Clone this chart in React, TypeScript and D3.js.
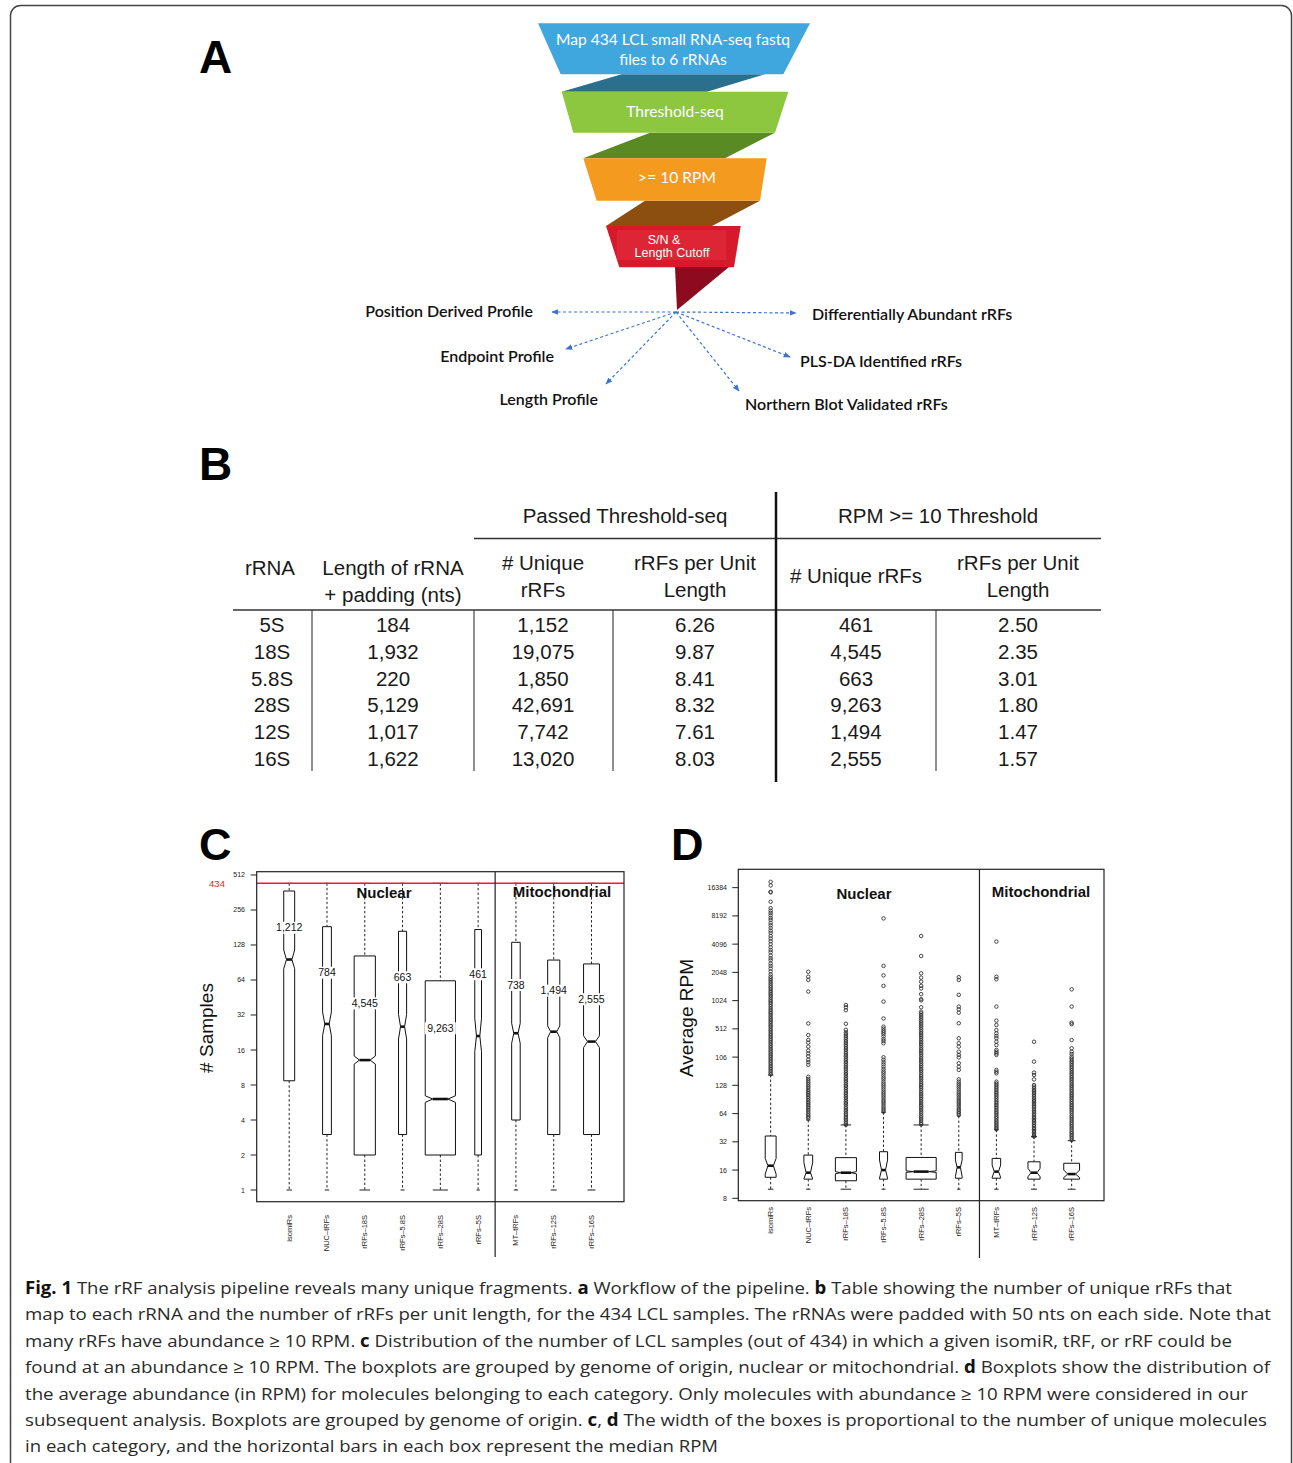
import React from "react";
import * as d3 from "d3";

// ---------------- DATA ----------------
const categories = ["isomiRs", "NUC–tRFs", "rRFs–18S", "rRFs–5.8S", "rRFs–28S", "rRFs–5S", "MT–tRFs", "rRFs–12S", "rRFs–16S"];
const uniqueCounts = [1212, 784, 4545, 663, 9263, 461, 738, 1494, 2555];
const countLabels = ["1,212", "784", "4,545", "663", "9,263", "461", "738", "1,494", "2,555"];
const nuclearCount = 6;

// Panel C: number of samples
const totalSamples = 434;
const cLow = [1, 1, 1, 1, 1, 1, 1, 1, 1];
const cQ1 = [8.7, 3, 2, 3, 2, 2, 4, 3, 3];
const cMed = [96, 26.8, 13.1, 25.4, 6.06, 21.1, 22.3, 23, 18.9];
const cQ3 = [373, 184, 103, 168, 63, 174, 135, 95, 88];
const cHigh = [434, 434, 434, 434, 434, 434, 434, 434, 434];
const cNotchLo = [80, 21.2, 12.1, 19.9, 5.67, 15.5, 18.3, 20.4, 16.8];
const cNotchHi = [116, 34, 14.2, 32.4, 6.46, 30, 27.1, 25.8, 21.2];
const cLabelAt = [180, 74, 40.3, 67.5, 24.6, 71.7, 58, 51.8, 43.7];
const cTicks = [1, 2, 4, 8, 16, 32, 64, 128, 256, 512];

// Panel D: average RPM
const dLow = [10, 10, 10, 10, 10, 10, 10, 10, 10];
const dQ1 = [13.4, 12.8, 12.3, 12.8, 12.8, 13.1, 13.1, 12.8, 12.8];
const dMed = [17.8, 15, 15, 16, 15.4, 17.1, 15.4, 15, 14.5];
const dQ3 = [36.9, 23.1, 21.7, 25.1, 21.8, 24.7, 21.3, 19.6, 18.9];
const dHigh = [165, 54.6, 48.4, 66, 48.4, 60.3, 43, 36.3, 32.9];
const dNotchLo = [14.5, 12.9, 14.6, 13.1, 15.1, 13.6, 13.4, 13.6, 13.3];
const dNotchHi = [21.3, 19.2, 15.4, 20.5, 15.7, 20.5, 18.1, 16.7, 16];
const dTicks = [8, 16, 32, 64, 128, 256, 512, 1024, 2048, 4096, 8192, 16384];
const dTickLabels = ["8", "16", "32", "64", "128", "106", "512", "1024", "2048", "4096", "8192", "16384"];

const outIsomiRs = [18900, 17300, 14800, 14600, 11600, 9900, 9300, 8800, 8300, 7800, 7400, 6900, 6500, 6100, 5700, 5400, 5000, 4700, 4400, 4100, 3800, 3550, 3350, 3100, 2900, 2750, 2550, 2400, 2250, 2100, 1950, 1840, 1760, 1690, 1620, 1550, 1480, 1420, 1360, 1300, 1250, 1200, 1150, 1100, 1050, 1010, 970, 930, 890, 850, 815, 780, 750, 720, 690, 660, 635, 610, 585, 560, 540, 515, 495, 475, 455, 437, 420, 402, 386, 370, 355, 340, 326, 313, 300, 288, 276, 265, 254, 244, 234, 224, 215, 206, 198, 190, 182, 175, 168];
const outNucTrf = [2080, 1840, 1700, 1280, 585, 440, 390, 365, 331, 300, 280, 262, 240, 226, 212, 158, 150, 143, 137, 131, 125, 120, 114, 109, 105, 101, 97, 93, 89, 85, 82, 79, 76, 73, 70, 67, 64, 61.5, 59, 57];
const out18S = [920, 870, 810, 580, 500, 470, 450, 430, 412, 395, 378, 362, 347, 333, 319, 306, 293, 281, 269, 258, 247, 237, 227, 218, 209, 200, 192, 184, 176, 169, 162, 155, 149, 143, 137, 131, 126, 121, 116, 111, 106, 102, 98, 94, 90, 86, 83, 80, 76, 73, 70, 67, 64, 62, 59, 57, 55, 52.5, 50.5, 48.5];
const out58S = [7700, 2400, 1900, 1470, 1000, 660, 540, 515, 490, 470, 450, 425, 400, 380, 360, 255, 240, 226, 214, 202, 190, 180, 172, 163, 155, 148, 140, 133, 127, 121, 115, 109, 104, 99, 94, 89, 85, 81, 77, 73, 70, 67];
const out28S = [5000, 3060, 2000, 1800, 1630, 1470, 1380, 1200, 1060, 1030, 870, 780, 750, 718, 687, 657, 629, 602, 576, 551, 527, 504, 482, 461, 441, 422, 404, 387, 370, 354, 339, 324, 310, 297, 284, 272, 260, 249, 238, 228, 218, 209, 200, 191, 183, 175, 167, 160, 153, 147, 140, 134, 129, 123, 118, 113, 108, 103, 99, 95, 91, 87, 83, 79, 76, 73, 70, 67, 64, 61, 58.5, 56, 53.5, 51, 49];
const out5S = [1820, 1700, 1180, 884, 826, 762, 588, 406, 360, 331, 292, 270, 254, 220, 202, 187, 148, 140, 133, 127, 121, 115, 109, 104, 99, 94, 89, 85, 81, 77, 73, 70, 67, 64.5, 62];
const outMtTrf = [4360, 1840, 1730, 884, 626, 563, 497, 459, 430, 406, 374, 344, 305, 292, 281, 270, 187, 179, 172, 140, 134, 129, 124, 119, 114, 109, 105, 101, 97, 93, 89, 85, 82, 79, 76, 73, 70, 67, 64.5, 62, 59.3, 57, 54.6, 52.5, 50.5, 48.5, 46.5, 45, 43.5];
const out12S = [373, 229, 175, 165, 148, 129, 124, 119, 114, 110, 106, 102, 98, 94, 90, 87, 84, 81, 78, 75, 72, 69, 66.5, 64, 61.5, 59, 57, 55, 53, 51, 49, 47, 45, 43.5, 42, 40.5, 39, 37.5, 36.5];
const out16S = [1350, 884, 596, 575, 389, 318, 292, 276, 259, 248, 238, 228, 219, 210, 201, 193, 185, 177, 170, 163, 156, 150, 144, 138, 132, 126, 121, 116, 111, 106, 102, 98, 94, 90, 86, 82.5, 79, 76, 73, 70, 67, 64, 61, 58.5, 56, 53.5, 51, 49, 47, 45, 43, 41, 39.5, 38, 36.5, 35, 33.5];
const dOutliers = [outIsomiRs, outNucTrf, out18S, out58S, out28S, out5S, outMtTrf, out12S, out16S];

// Panel B table
const rRNA = ["5S", "18S", "5.8S", "28S", "12S", "16S"];
const lengthPadded = ["184", "1,932", "220", "5,129", "1,017", "1,622"];
const passedUnique = ["1,152", "19,075", "1,850", "42,691", "7,742", "13,020"];
const passedPerUnit = ["6.26", "9.87", "8.41", "8.32", "7.61", "8.03"];
const rpmUnique = ["461", "4,545", "663", "9,263", "1,494", "2,555"];
const rpmPerUnit = ["2.50", "2.35", "3.01", "1.80", "1.47", "1.57"];

// Panel A workflow
const funnelSteps = [["Map 434 LCL small RNA-seq fastq", "files to 6 rRNAs"], ["Threshold-seq"], [">= 10 RPM"], ["S/N &", "Length Cutoff"]];
const outputs = ["Position Derived Profile", "Differentially Abundant rRFs", "Endpoint Profile", "PLS-DA Identified rRFs", "Length Profile", "Northern Blot Validated rRFs"];

// Caption
const caption: [string, boolean][][] = [
  [["Fig. 1", true], [" The rRF analysis pipeline reveals many unique fragments. ", false], ["a", true], [" Workflow of the pipeline. ", false], ["b", true], [" Table showing the number of unique rRFs that", false]],
  [["map to each rRNA and the number of rRFs per unit length, for the 434 LCL samples. The rRNAs were padded with 50 nts on each side. Note that", false]],
  [["many rRFs have abundance \u2265 10 RPM. ", false], ["c", true], [" Distribution of the number of LCL samples (out of 434) in which a given isomiR, tRF, or rRF could be", false]],
  [["found at an abundance \u2265 10 RPM. The boxplots are grouped by genome of origin, nuclear or mitochondrial. ", false], ["d", true], [" Boxplots show the distribution of", false]],
  [["the average abundance (in RPM) for molecules belonging to each category. Only molecules with abundance \u2265 10 RPM were considered in our", false]],
  [["subsequent analysis. Boxplots are grouped by genome of origin. ", false], ["c", true], [", ", false], ["d", true], [" The width of the boxes is proportional to the number of unique molecules", false]],
  [["in each category, and the horizontal bars in each box represent the median RPM", false]],
];

// ---------------- LAYOUT ----------------
const W = 1293, H = 1463;
const ARIAL = "'Liberation Sans', Arial, Helvetica, sans-serif";

type BoxStats = { low: number[]; q1: number[]; med: number[]; q3: number[]; high: number[]; nlo: number[]; nhi: number[] };

function Boxplots({ x, y, stats, outliers }: { x: d3.ScaleLinear<number, number>; y: d3.ScaleLogarithmic<number, number>; stats: BoxStats; outliers?: number[][] }) {
  const wScale = d3.scaleSqrt().domain([0, d3.max(uniqueCounts) as number]).range([0, 0.8]);
  return (
    <g>
      {categories.map((c, i) => {
        const cx = x(i + 1);
        const hw = (x(1 + wScale(uniqueCounts[i])) - x(1)) / 2;
        const yq1 = y(stats.q1[i]), yq3 = y(stats.q3[i]), ym = y(stats.med[i]);
        const ynl = Math.min(y(stats.nlo[i]), yq1), ynh = Math.max(y(stats.nhi[i]), yq3);
        const pts = [
          [cx - hw, yq1], [cx - hw, ynl], [cx - hw / 2, ym], [cx - hw, ynh], [cx - hw, yq3],
          [cx + hw, yq3], [cx + hw, ynh], [cx + hw / 2, ym], [cx + hw, ynl], [cx + hw, yq1],
        ];
        const yl = y(stats.low[i]), yh = y(stats.high[i]);
        return (
          <g key={c}>
            {(outliers ? outliers[i] : []).map((v, k) => (
              <circle key={k} cx={cx} cy={y(v)} r={1.75} fill="none" stroke="#333" strokeWidth={0.9} />
            ))}
            <line x1={cx} x2={cx} y1={yh} y2={yq3} stroke="#222" strokeWidth={1} strokeDasharray="2.4,2.2" />
            <line x1={cx} x2={cx} y1={yq1} y2={yl} stroke="#222" strokeWidth={1} strokeDasharray="2.4,2.2" />
            <line x1={cx - hw / 2} x2={cx + hw / 2} y1={yh} y2={yh} stroke="#222" strokeWidth={1} />
            <line x1={cx - hw / 2} x2={cx + hw / 2} y1={yl} y2={yl} stroke="#222" strokeWidth={1} />
            <polygon points={pts.map((p) => p.join(",")).join(" ")} fill="white" stroke="#111" strokeWidth={1} />
            <line x1={cx - hw / 2} x2={cx + hw / 2} y1={ym} y2={ym} stroke="#111" strokeWidth={2.6} />
          </g>
        );
      })}
    </g>
  );
}

function Funnel() {
  const blue = [[538, 23.3], [810, 23.3], [783.3, 74.3], [560.7, 74.3]];
  const teal = [[621.7, 74.3], [765, 74.3], [707, 91.7], [561.7, 91.7]];
  const green = [[561.7, 91.7], [788.3, 91.7], [775, 132.7], [573.3, 132.7]];
  const dgreen = [[650, 132.7], [775, 132.7], [725, 158.3], [583.3, 158.3]];
  const orange = [[583.3, 158.3], [766.7, 158.3], [760, 200.7], [596.7, 200.7]];
  const brown = [[645, 200.7], [760, 200.7], [712, 226], [606, 226]];
  const red = [[606, 226], [740.7, 226], [734, 267.3], [619.3, 267.3]];
  const tail = [[675, 267], [729, 267], [677, 310]];
  const P = (p: number[][]) => p.map((q) => q.join(",")).join(" ");
  const ox = 676, oy = 312;
  const targets = [
    { tx: 552, ty: 312, lx: 533, ly: 317, a: "end" },
    { tx: 796, ty: 313, lx: 812, ly: 320, a: "start" },
    { tx: 566, ty: 349, lx: 554, ly: 362, a: "end" },
    { tx: 790, ty: 357, lx: 800, ly: 367, a: "start" },
    { tx: 606, ty: 384, lx: 598, ly: 405, a: "end" },
    { tx: 739, ty: 391, lx: 745, ly: 410, a: "start" },
  ];
  const arrowBlue = "#3a72d6";
  return (
    <g>
      <defs>
        <marker id="ah" viewBox="0 0 10 10" refX="9" refY="5" markerWidth="7" markerHeight="7" markerUnits="userSpaceOnUse" orient="auto">
          <path d="M0,1 L10,5 L0,9 z" fill={arrowBlue} />
        </marker>
      </defs>
      <polygon points={P(teal)} fill="#2c6e8e" />
      <polygon points={P(dgreen)} fill="#5a8a23" />
      <polygon points={P(brown)} fill="#8c4f0f" />
      <polygon points={P(blue)} fill="#40a6de" />
      <polygon points={P(green)} fill="#8dc63f" />
      <polygon points={P(orange)} fill="#f39a1f" />
      <polygon points={P(red)} fill="#d51a2c" />
      <rect x={617} y={230} width={109} height={30} fill="#dd2536" />
      <polygon points={P(tail)} fill="#8e0b1f" />
      <g fill="white" fontFamily="Lato, 'Open Sans', sans-serif" fontSize={15.6} textAnchor="middle">
        <text x={673} y={45}>{funnelSteps[0][0]}</text>
        <text x={673} y={65}>{funnelSteps[0][1]}</text>
        <text x={675} y={117}>{funnelSteps[1][0]}</text>
        <text x={677} y={183}>{funnelSteps[2][0]}</text>
      </g>
      <g fill="white" fontFamily={ARIAL} fontSize={12.5} textAnchor="middle">
        <text x={664} y={243.5}>{funnelSteps[3][0]}</text>
        <text x={672} y={256.5}>{funnelSteps[3][1]}</text>
      </g>
      {targets.map((t, i) => (
        <g key={i}>
          <line x1={ox} y1={oy} x2={t.tx} y2={t.ty} stroke={arrowBlue} strokeWidth={1.2} strokeDasharray="3,2.5" markerEnd="url(#ah)" />
          <text x={t.lx} y={t.ly} textAnchor={t.a as any} fontFamily="Lato, 'Open Sans', sans-serif" fontSize={16} fontWeight={600} fill="#111">
            {outputs[i]}
          </text>
        </g>
      ))}
    </g>
  );
}

function Table() {
  const colX = [272, 393, 543, 695, 856, 1018];
  const cols = [rRNA, lengthPadded, passedUnique, passedPerUnit, rpmUnique, rpmPerUnit];
  const rowY = d3.range(rRNA.length).map((i) => 632 + i * 26.8);
  const fs = 20.5;
  return (
    <g fontFamily={ARIAL} fontSize={fs} fill="#1a1a1a" textAnchor="middle">
      <text x={625} y={523}>Passed Threshold-seq</text>
      <text x={938} y={523}>RPM &gt;= 10 Threshold</text>
      <line x1={474} x2={1101} y1={538.5} y2={538.5} stroke="#333" strokeWidth={1.5} />
      <text x={270} y={575}>rRNA</text>
      <text x={393} y={575}>Length of rRNA</text>
      <text x={393} y={602}>+ padding (nts)</text>
      <text x={543} y={570}># Unique</text>
      <text x={543} y={597}>rRFs</text>
      <text x={695} y={570}>rRFs per Unit</text>
      <text x={695} y={597}>Length</text>
      <text x={856} y={583}># Unique rRFs</text>
      <text x={1018} y={570}>rRFs per Unit</text>
      <text x={1018} y={597}>Length</text>
      <line x1={233} x2={1101} y1={610} y2={610} stroke="#333" strokeWidth={1.5} />
      {[312, 474, 613, 936].map((x) => (
        <line key={x} x1={x} x2={x} y1={610} y2={771} stroke="#333" strokeWidth={1.1} />
      ))}
      <line x1={776} x2={776} y1={492} y2={782} stroke="#111" strokeWidth={2.5} />
      {cols.map((col, ci) =>
        col.map((v, ri) => (
          <text key={ci + "-" + ri} x={colX[ci]} y={rowY[ri]}>
            {v}
          </text>
        ))
      )}
    </g>
  );
}

function PanelC() {
  const left = 256.7, right = 624, top = 871.7, bottom = 1201.7;
  const x = d3.scaleLinear().domain([0.14, 9.86]).range([left, right]);
  const y = d3.scaleLog().base(2).domain([Math.pow(2, -0.334), Math.pow(2, 9.094)]).range([bottom, top]);
  const divX = x(nuclearCount + 0.45);
  return (
    <g fontFamily={ARIAL}>
      <Boxplots x={x} y={y} stats={{ low: cLow, q1: cQ1, med: cMed, q3: cQ3, high: cHigh, nlo: cNotchLo, nhi: cNotchHi }} />
      {countLabels.map((l, i) => {
        const cx = x(i + 1);
        const tw = l.length * 5.8 + 2;
        return (
          <g key={l}>
            <rect x={cx - tw / 2} y={y(cLabelAt[i]) - 6} width={tw} height={12} fill="white" />
            <text x={cx} y={y(cLabelAt[i]) + 3.7} textAnchor="middle" fontSize={10.5} fill="#111">
              {l}
            </text>
          </g>
        );
      })}
      <line x1={left} x2={right} y1={y(totalSamples)} y2={y(totalSamples)} stroke="#ee1c25" strokeWidth={1.5} />
      <text x={217} y={y(totalSamples) + 3.5} textAnchor="middle" fontSize={9.5} fill="#ee1c25">
        {totalSamples}
      </text>
      <rect x={left} y={top} width={right - left} height={bottom - top} fill="none" stroke="#222" strokeWidth={1.2} />
      <line x1={divX} x2={divX} y1={top} y2={1257} stroke="#222" strokeWidth={1.2} />
      <text x={384} y={898} textAnchor="middle" fontSize={15} fontWeight="bold" fill="#111">Nuclear</text>
      <text x={562} y={897} textAnchor="middle" fontSize={15} fontWeight="bold" fill="#111">Mitochondrial</text>
      {cTicks.map((t) => (
        <g key={t}>
          <line x1={left - 6} x2={left} y1={y(t)} y2={y(t)} stroke="#222" strokeWidth={1} />
          <text x={245} y={y(t) + 2.5} textAnchor="end" fontSize={7} fill="#222">{t}</text>
        </g>
      ))}
      {categories.map((c, i) => (
        <text key={c} transform={`translate(${x(i + 1) + 2.5},1215) rotate(-90)`} textAnchor="end" fontSize={7.5} fill="#222">
          {c}
        </text>
      ))}
      <text transform="translate(213,1028) rotate(-90)" textAnchor="middle" fontSize={19} fill="#111"># Samples</text>
      <text x={199} y={860} fontSize={45} fontWeight="bold" fill="#000">C</text>
    </g>
  );
}

function PanelD() {
  const left = 738.3, right = 1104, top = 869.3, bottom = 1200.7;
  const x = d3.scaleLinear().domain([0.14, 9.86]).range([left, right]);
  const y = d3.scaleLog().base(2).domain([Math.pow(2, 2.915), Math.pow(2, 14.65)]).range([bottom, top]);
  const divX = x(nuclearCount + 0.55);
  return (
    <g fontFamily={ARIAL}>
      <Boxplots x={x} y={y} stats={{ low: dLow, q1: dQ1, med: dMed, q3: dQ3, high: dHigh, nlo: dNotchLo, nhi: dNotchHi }} outliers={dOutliers} />
      <rect x={left} y={top} width={right - left} height={bottom - top} fill="none" stroke="#222" strokeWidth={1.2} />
      <line x1={divX} x2={divX} y1={top} y2={1258} stroke="#222" strokeWidth={1.2} />
      <text x={864} y={899} textAnchor="middle" fontSize={15} fontWeight="bold" fill="#111">Nuclear</text>
      <text x={1041} y={897} textAnchor="middle" fontSize={15} fontWeight="bold" fill="#111">Mitochondrial</text>
      {dTicks.map((t, i) => (
        <g key={t}>
          <line x1={left - 6} x2={left} y1={y(t)} y2={y(t)} stroke="#222" strokeWidth={1} />
          <text x={727} y={y(t) + 2.5} textAnchor="end" fontSize={7} fill="#222">{dTickLabels[i]}</text>
        </g>
      ))}
      {categories.map((c, i) => (
        <text key={c} transform={`translate(${x(i + 1) + 2.5},1207) rotate(-90)`} textAnchor="end" fontSize={7.5} fill="#222">
          {c}
        </text>
      ))}
      <text transform="translate(693,1018) rotate(-90)" textAnchor="middle" fontSize={19} fill="#111">Average RPM</text>
      <text x={671} y={860} fontSize={45} fontWeight="bold" fill="#000">D</text>
    </g>
  );
}

function Caption() {
  const lineEnds = [1232, 1271, 1232, 1270, 1248, 1267, 718];
  const x0 = 25;
  return (
    <g fontFamily="'Open Sans', 'Noto Sans', sans-serif" fontSize={17} fill="#2a2a2a">
      {caption.map((segs, i) => (
        <text key={i} x={x0} y={1294 + i * 26.4} textLength={lineEnds[i] - x0} lengthAdjust="spacingAndGlyphs">
          {segs.map(([t, b], k) => (
            <tspan key={k} fontWeight={b ? "bold" : "normal"} fill={b ? "#111" : undefined}>
              {t}
            </tspan>
          ))}
        </text>
      ))}
    </g>
  );
}

export default function App() {
  return (
    <div style={{ position: "absolute", left: 0, top: 0, width: W, height: H, background: "white" }}>
      <svg width={W} height={H} viewBox={`0 0 ${W} ${H}`} style={{ display: "block" }}>
        <rect x={0} y={0} width={W} height={H} fill="white" />
        <rect x={10.5} y={5.5} width={1281} height={1520} rx={10} ry={10} fill="none" stroke="#444" strokeWidth={1.5} />
        <text x={199} y={73} fontFamily={ARIAL} fontSize={46} fontWeight="bold" fill="#000">A</text>
        <text x={199} y={480} fontFamily={ARIAL} fontSize={46} fontWeight="bold" fill="#000">B</text>
        <Funnel />
        <Table />
        <PanelC />
        <PanelD />
        <Caption />
      </svg>
    </div>
  );
}
